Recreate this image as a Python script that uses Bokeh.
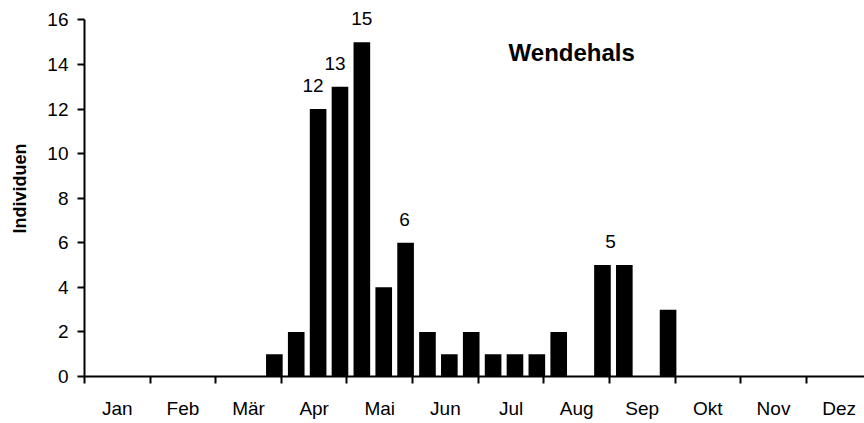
from bokeh.plotting import figure
from bokeh.models import Range1d, FixedTicker, Label, LabelSet, ColumnDataSource
from bokeh.core.properties import value
from bokeh.embed import file_html
from bokeh.resources import INLINE

# 36 Dekaden (3 per month), Jan..Dez
months = ["Jan", "Feb", "Mär", "Apr", "Mai", "Jun", "Jul", "Aug", "Sep", "Okt", "Nov", "Dez"]
counts = [0, 0, 0, 0, 0, 0, 0, 0, 1,
          2, 12, 13, 15, 4, 6, 2, 1, 2,
          1, 1, 1, 2, 0, 5, 5, 0, 3,
          0, 0, 0, 0, 0, 0, 0, 0, 0]
label_idx = [10, 11, 12, 14, 23]
label_text = ["12", "13", "15", "6", "5"]
label_dx = [-5, -5, 0, -1, 8]  # px nudges of the value labels
y_ticks = [0, 2, 4, 6, 8, 10, 12, 14, 16]
title_text = "Wendehals"
y_title = "Individuen"

FONT = "Liberation Sans"
BAR_OFF = 0.68
BAR_W = 0.76

p = figure(width=864, height=423, output_backend="svg", toolbar_location=None,
           x_range=Range1d(0, 35.66), y_range=Range1d(0, 16.87),
           min_border_left=84, min_border_right=0, min_border_top=0, min_border_bottom=47)
p.outline_line_color = None
p.xgrid.visible = False
p.ygrid.visible = False

xs = [i + BAR_OFF for i in range(len(counts))]
p.vbar(x=xs, top=counts, bottom=0, width=BAR_W, fill_color="black", line_color=None)

# value labels
src = ColumnDataSource(dict(x=[i + BAR_OFF for i in label_idx],
                            y=[counts[i] for i in label_idx],
                            t=label_text, dx=label_dx))
p.add_layout(LabelSet(x="x", y="y", text="t", source=src, x_offset="dx", y_offset=17,
                      text_align="center", text_baseline="alphabetic",
                      text_font=value(FONT), text_font_size=value("19px"),
                      text_color=value("black")))

# x axis: month boundaries as minor ticks, month names at centers
centers = [3 * m + 1.5 for m in range(12)]
bounds = [3 * m for m in range(13)]
xa = p.xaxis[0]
xa.ticker = FixedTicker(ticks=centers, minor_ticks=bounds)
xa.major_label_overrides = {c: months[k] for k, c in enumerate(centers)}
xa.major_tick_out = 0
xa.major_tick_in = 0
xa.minor_tick_out = 7
xa.minor_tick_in = 0
xa.minor_tick_line_width = 2
xa.minor_tick_line_color = "black"
xa.axis_line_width = 2
xa.axis_line_color = "black"
xa.major_label_standoff = 14
xa.major_label_text_font = FONT
xa.major_label_text_font_size = "19px"
xa.major_label_text_color = "black"

ya = p.yaxis[0]
ya.ticker = FixedTicker(ticks=y_ticks, minor_ticks=[])
ya.bounds = (0, 16)
ya.major_tick_out = 7
ya.major_tick_in = 0
ya.major_tick_line_width = 2
ya.major_tick_line_color = "black"
ya.minor_tick_out = 0
ya.minor_tick_in = 0
ya.axis_line_width = 2
ya.axis_line_color = "black"
ya.major_label_standoff = 9
ya.major_label_text_font = FONT
ya.major_label_text_font_size = "19px"
ya.major_label_text_color = "black"
ya.axis_label = y_title
ya.axis_label_text_font = FONT
ya.axis_label_text_font_size = "18px"
ya.axis_label_text_font_style = "bold"
ya.axis_label_text_color = "black"
ya.axis_label_standoff = 14

p.add_layout(Label(x=19.39, y=14.55, text=title_text, text_align="left",
                   text_baseline="alphabetic", text_font=FONT, text_font_size="24px",
                   text_font_style="bold", text_color="black"))

open("out.html", "w").write(file_html(p, INLINE))
